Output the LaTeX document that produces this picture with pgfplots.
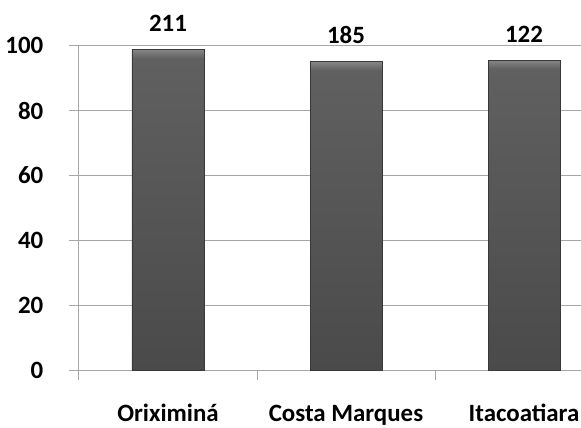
\documentclass[border=0pt]{standalone}
\usepackage{fontspec}
\setmainfont{Carlito}
\usepackage{pgfplots}
\pgfplotsset{compat=1.18}

\definecolor{gridgray}{RGB}{166,166,166}
\definecolor{bardark}{RGB}{74,74,74}
\definecolor{barmid}{RGB}{96,96,96}
\definecolor{barlight}{RGB}{134,134,134}
\definecolor{bardraw}{RGB}{56,56,56}

% dark-to-mid body fading into a light bevel at the top edge
\pgfdeclareverticalshading{barshade}{100bp}{%
  color(0bp)=(bardark); color(25bp)=(bardark);
  color(73.6bp)=(barmid); color(75bp)=(barlight);
  color(100bp)=(barlight)}

\tikzset{gradbar/.style={shade, shading=barshade, draw=bardraw, line width=0.8bp}}

\begin{document}
\begin{tikzpicture}[font=\fontsize{25}{30}\selectfont\bfseries]
\begin{axis}[
  at={(0,0)}, anchor=south west,
  scale only axis,
  width=534bp, height=325bp,
  xmin=-0.5, xmax=2.5,
  ymin=0, ymax=100,
  axis x line*=bottom, axis y line*=left,
  axis line style={gridgray, line width=1bp},
  ytick={0,20,...,100},
  ymajorgrids,
  grid style={gridgray, line width=1bp},
  xtick={-0.5,0.5,1.5},
  xticklabels={},
  extra x ticks={0,1,2},
  extra x tick labels={Oriximiná,Costa Marques,Itacoatiara},
  extra x tick style={major tick length=0pt},
  tick align=outside,
  major tick length=9.5bp,
  tick style={gridgray, line width=1bp},
  yticklabel style={anchor=east, inner sep=0pt, xshift=-26bp},
  xticklabel style={anchor=base, inner sep=0pt, yshift=-51bp},
  /pgf/number format/assume math mode=true,
  ybar, bar width=72bp, bar shift=0pt,
  point meta=explicit symbolic,
  nodes near coords,
  nodes near coords style={anchor=base, inner sep=0pt, yshift=18bp, black},
  clip=false,
]
\addplot[gradbar] coordinates {(0,98.8) [211]};
\addplot[gradbar] coordinates {(1,95.0) [185]};
\addplot[gradbar] coordinates {(2,95.5) [122]};
\end{axis}
\pgfresetboundingbox
\useasboundingbox (-79bp,-57.5bp) rectangle (502bp,370.5bp);
\end{tikzpicture}
\end{document}
